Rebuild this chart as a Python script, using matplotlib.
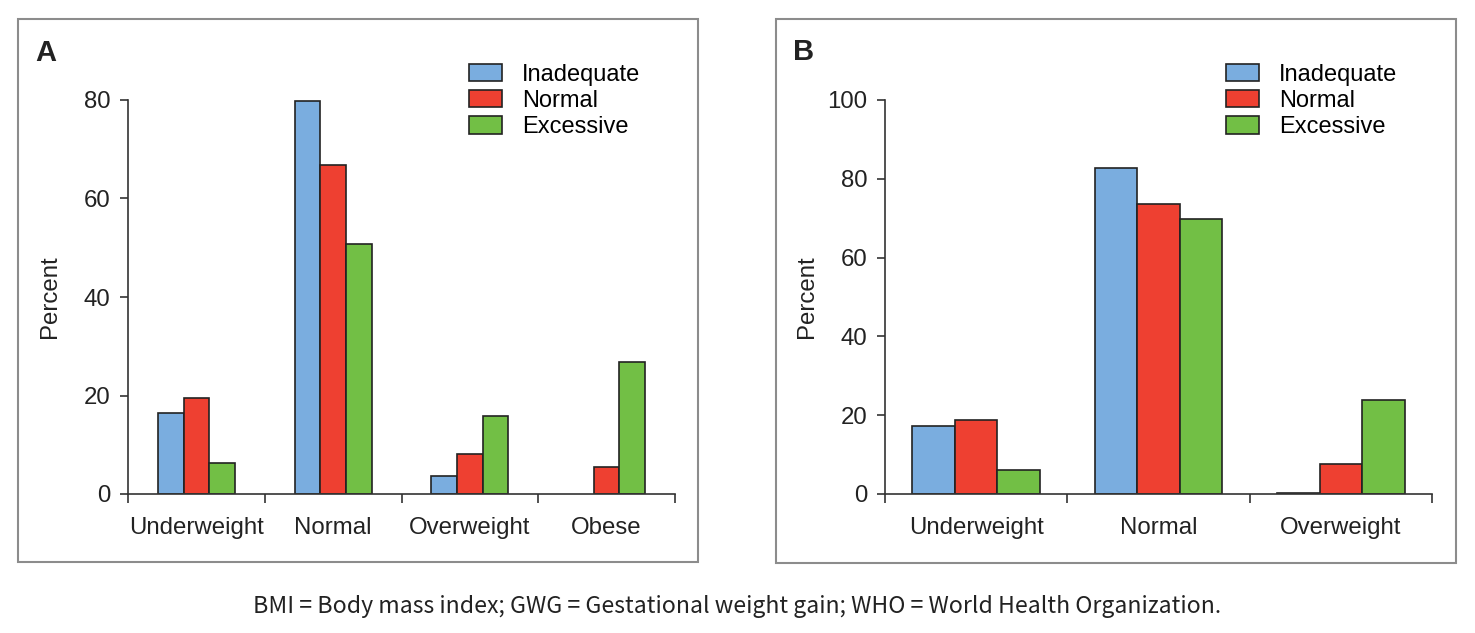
import matplotlib
matplotlib.use("Agg")
import matplotlib.pyplot as plt
import numpy as np
from matplotlib.patches import Rectangle

# ---------------- data ----------------
series = ["Inadequate", "Normal", "Excessive"]
colors = ["#7aaddf", "#ee4031", "#72bf45"]

cats_a = ["Underweight", "Normal", "Overweight", "Obese"]
a_inadequate = [16.4, 79.7, 3.7, 0.0]
a_normal = [19.5, 66.8, 8.1, 5.4]
a_excessive = [6.3, 50.7, 15.8, 26.9]

cats_b = ["Underweight", "Normal", "Overweight"]
b_inadequate = [17.3, 82.7, 0.3]
b_normal = [18.8, 73.7, 7.6]
b_excessive = [6.2, 69.7, 23.8]

yticks_a = [0, 20, 40, 60, 80]
yticks_b = [0, 20, 40, 60, 80, 100]

caption = "BMI = Body mass index; GWG = Gestational weight gain; WHO = World Health Organization."

# ---------------- style ----------------
W, H = 1475, 633
DPI = 100
plt.rcParams['font.family'] = ['Liberation Sans', 'DejaVu Sans']
FS = 17.3
LFS = 17
spine_col = "#333333"

fig = plt.figure(figsize=(W / DPI, H / DPI), dpi=DPI)


def px_rect(x0, y0, x1, y1):
    return [x0 / W, 1 - y1 / H, (x1 - x0) / W, (y1 - y0) / H]


def draw_panel(rect, cats, vals, yticks, bar_w, letter, letter_xy, box):
    ax = fig.add_axes(rect)
    n = len(cats)
    x = np.arange(n)
    offs = [-bar_w, 0, bar_w]
    for s, v, c, o in zip(series, vals, colors, offs):
        v = np.asarray(v, dtype=float)
        ax.bar(x + o, np.where(v > 0, v, np.nan), width=bar_w, color=c,
               edgecolor="#222222", linewidth=1.2, label=s, zorder=3)
    ax.set_xlim(-0.5, n - 0.5)
    ax.set_ylim(yticks[0], yticks[-1])
    ax.set_yticks(yticks)
    ax.set_yticklabels([str(t) for t in yticks])
    ax.set_xticks(x)
    ax.set_xticklabels(cats)
    ax.set_xticks(np.arange(n + 1) - 0.5, minor=True)
    ax.tick_params(axis='x', which='major', length=0, pad=16.5, labelsize=FS,
                   colors="#222222")
    ax.tick_params(axis='x', which='minor', length=6.5, width=1.2,
                   color=spine_col, direction='out')
    ax.tick_params(axis='y', length=5.8, width=1.2, color=spine_col,
                   pad=7, labelsize=FS, labelcolor="#222222")
    for sp in ["top", "right"]:
        ax.spines[sp].set_visible(False)
    for sp in ["left", "bottom"]:
        ax.spines[sp].set_color(spine_col)
        ax.spines[sp].set_linewidth(1.2)
    ax.spines["bottom"].set_zorder(4)
    ax.set_ylabel("Percent", fontsize=FS, color="#222222")
    ax.yaxis.set_label_coords(-0.122, 0.5)
    ax.legend(loc="upper left", bbox_to_anchor=(0.623, 1.092), frameon=False,
              fontsize=LFS, handlelength=1.4, handleheight=0.76,
              handletextpad=0.85, labelspacing=0.18, borderpad=0,
              borderaxespad=0)
    # panel letter
    fig.text(letter_xy[0] / W, 1 - letter_xy[1] / H, letter, fontsize=21,
             fontweight="bold", ha="left", va="baseline", color="#222222")
    # frame box
    fig.add_artist(Rectangle((box[0] / W, 1 - box[3] / H),
                             (box[2] - box[0]) / W, (box[3] - box[1]) / H,
                             transform=fig.transFigure, fill=False,
                             edgecolor="#8c8c8c", linewidth=1.5))
    return ax


axA = draw_panel(px_rect(128, 100, 675, 494), cats_a,
                 [a_inadequate, a_normal, a_excessive], yticks_a, 0.188,
                 "A", (35, 61), (18, 19, 698, 562))
axB = draw_panel(px_rect(885, 100, 1432, 494), cats_b,
                 [b_inadequate, b_normal, b_excessive], yticks_b, 0.233,
                 "B", (793, 60), (776, 19, 1456, 563))

# caption, fit to measured width
cap = fig.text(737.5 / W, 1 - 613 / H, caption,
               family=['Noto Sans CJK KR', 'DejaVu Sans'], fontsize=18,
               ha="center", va="baseline", color="#222222")
fig.canvas.draw()
bb = cap.get_window_extent(fig.canvas.get_renderer())
cap.set_fontsize(18 * 969 / bb.width)

fig.savefig("out.png", dpi=DPI)
